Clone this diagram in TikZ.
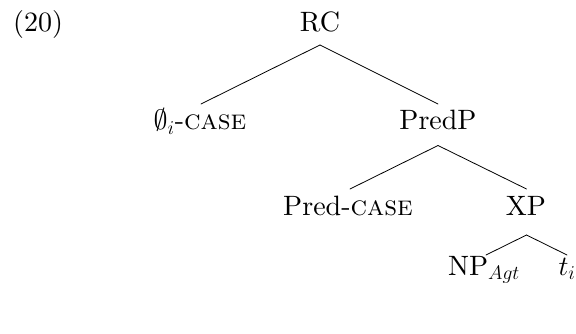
\RequirePackage{fix-cm}
\documentclass[tikz,border=0pt]{standalone}
\usepackage{fontspec}
\setmainfont{lmroman10-regular.otf}[SmallCapsFont=lmromancaps10-regular.otf, ItalicFont=lmroman10-italic.otf, BoldFont=lmroman10-bold.otf]
\tikzset{
  lbl/.style={inner sep=0pt, anchor=base, font=\fontsize{28}{33}\selectfont},
  branch/.style={line width=0.8pt, line cap=round}
}
\begin{document}
\begin{tikzpicture}[x=1pt,y=1pt]
\useasboundingbox (0,0) rectangle (576,-334);
\node[lbl, anchor=base west] (ex) at (13,-32) {(20)};
\node[lbl] (rc) at (320,-32) {RC};
\node[lbl] (phi) at (200,-130) {$\emptyset_i$-\textsc{case}};
\node[lbl] (predp) at (438,-130) {PredP};
\node[lbl] (predcase) at (348,-215) {Pred-\textsc{case}};
\node[lbl] (xp) at (526,-215) {XP};
\node[lbl] (np) at (484,-275) {NP$_{Agt}$};
\node[lbl] (t) at (567,-275) {$t_i$};
\draw[branch] ([yshift=-13pt]rc.base) -- ([xshift=1pt,yshift=26pt]phi.base);
\draw[branch] ([yshift=-13pt]rc.base) -- ([yshift=26pt]predp.base);
\draw[branch] ([yshift=-15.5pt]predp.base) -- ([xshift=2pt,yshift=26pt]predcase.base);
\draw[branch] ([yshift=-15.5pt]predp.base) -- ([xshift=0.5pt,yshift=26pt]xp.base);
\draw[branch] ([xshift=0.5pt,yshift=-20pt]xp.base) -- ([xshift=2pt,yshift=20pt]np.base);
\draw[branch] ([xshift=0.5pt,yshift=-20pt]xp.base) -- ([yshift=20pt]t.base);
\end{tikzpicture}
\end{document}
